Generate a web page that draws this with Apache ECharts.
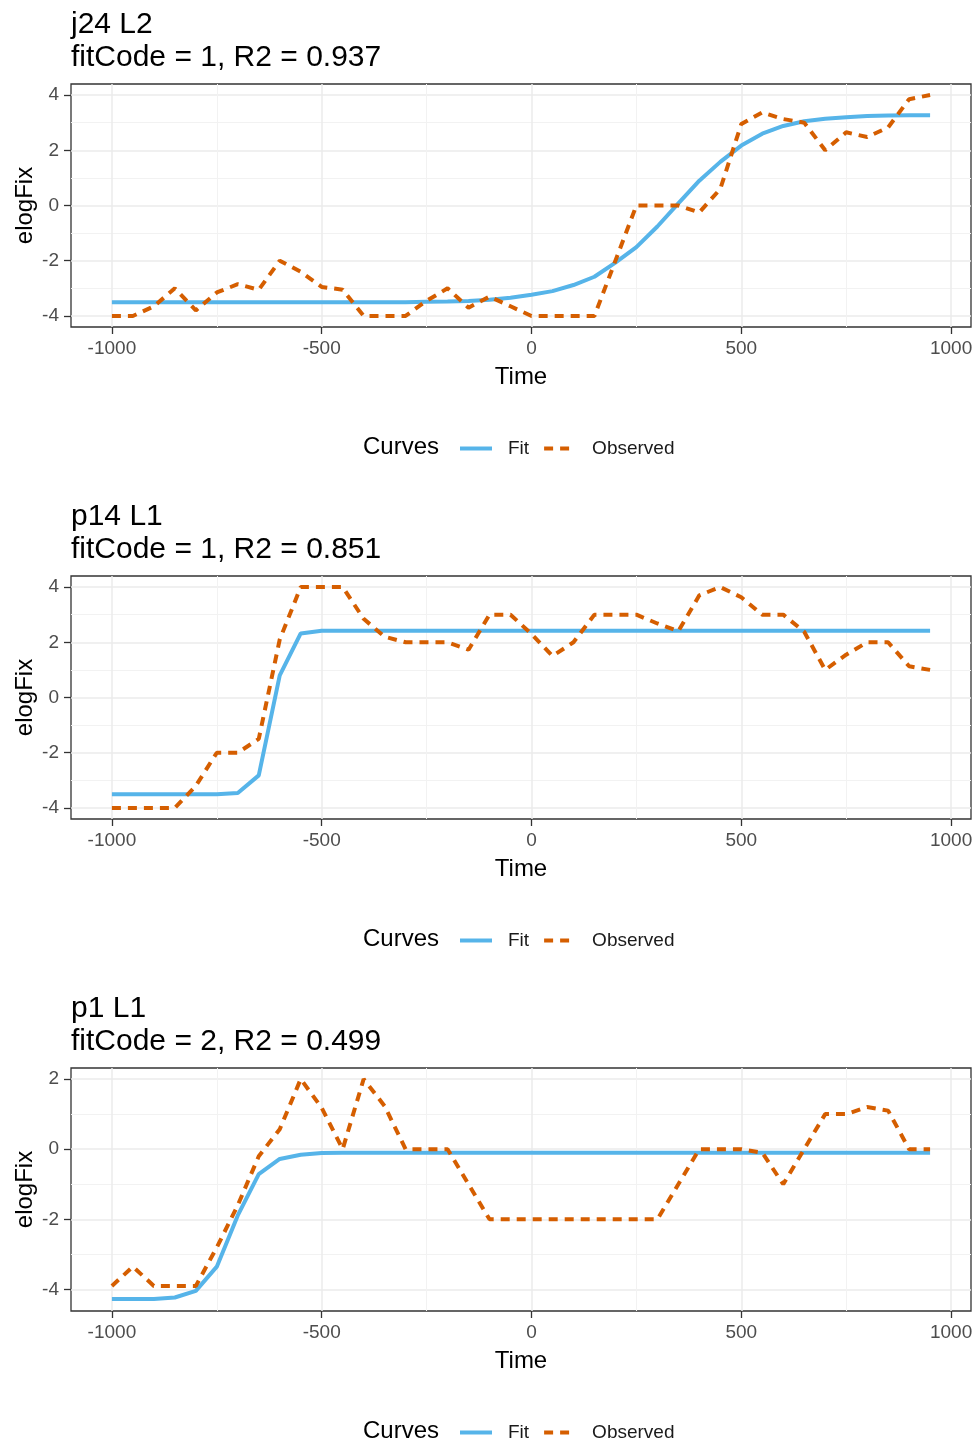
<!DOCTYPE html>
<html>
<head>
<meta charset="utf-8">
<title>elogFix curves</title>
<script src="https://cdn.jsdelivr.net/npm/echarts@6/dist/echarts.min.js"></script>
<style>
  body { margin: 0; background: #fff; }
  #main { width: 976px; height: 1442px; }
</style>
</head>
<body>
<div id="main"></div>
<script>
// time points, shared by all three panels
var times = [-1000, -950, -900, -850, -800, -750, -700, -650, -600, -550,
             -500, -450, -400, -350, -300, -250, -200, -150, -100, -50,
             0, 50, 100, 150, 200, 250, 300, 350, 400, 450,
             500, 550, 600, 650, 700, 750, 800, 850, 900, 950];

var panelNames = ['j24 L2', 'p14 L1', 'p1 L1'];
var panelStats = ['fitCode = 1, R2 = 0.937', 'fitCode = 1, R2 = 0.851', 'fitCode = 2, R2 = 0.499'];

// j24 L2
var fitJ24 = [-3.5, -3.5, -3.5, -3.5, -3.5, -3.5, -3.5, -3.5, -3.5, -3.5,
              -3.5, -3.5, -3.5, -3.5, -3.5, -3.49, -3.48, -3.46, -3.41, -3.34,
              -3.23, -3.1, -2.88, -2.58, -2.07, -1.51, -0.76, 0.08, 0.9, 1.58,
              2.17, 2.6, 2.88, 3.05, 3.14, 3.2, 3.24, 3.26, 3.27, 3.27];
var obsJ24 = [-4, -4, -3.65, -3, -3.8, -3.15, -2.85, -3.05, -2, -2.4,
              -2.95, -3.05, -4, -4, -4, -3.45, -3, -3.7, -3.3, -3.65,
              -4, -4, -4, -4, -2, 0, 0, 0, -0.25, 0.6,
              2.95, 3.37, 3.13, 3, 2, 2.65, 2.48, 2.83, 3.85, 4];

// p14 L1
var fitP14 = [-3.5, -3.5, -3.5, -3.5, -3.5, -3.5, -3.46, -2.82, 0.8, 2.32,
              2.42, 2.42, 2.42, 2.42, 2.42, 2.42, 2.42, 2.42, 2.42, 2.42,
              2.42, 2.42, 2.42, 2.42, 2.42, 2.42, 2.42, 2.42, 2.42, 2.42,
              2.42, 2.42, 2.42, 2.42, 2.42, 2.42, 2.42, 2.42, 2.42, 2.42];
var obsP14 = [-4, -4, -4, -4, -3.2, -2, -2, -1.5, 2.1, 4,
              4, 4, 2.85, 2.2, 2, 2, 2, 1.73, 3, 3,
              2.3, 1.5, 2, 3, 3, 3, 2.68, 2.4, 3.7, 4,
              3.63, 3, 3, 2.38, 1, 1.55, 2, 2, 1.13, 1];

// p1 L1
var fitP1 = [-4.27, -4.27, -4.27, -4.23, -4.04, -3.35, -1.89, -0.71, -0.28, -0.16,
             -0.11, -0.1, -0.1, -0.1, -0.1, -0.1, -0.1, -0.1, -0.1, -0.1,
             -0.1, -0.1, -0.1, -0.1, -0.1, -0.1, -0.1, -0.1, -0.1, -0.1,
             -0.1, -0.1, -0.1, -0.1, -0.1, -0.1, -0.1, -0.1, -0.1, -0.1];
var obsP1 = [-3.9, -3.35, -3.9, -3.9, -3.9, -2.8, -1.6, -0.2, 0.57, 2,
             1.18, 0, 2, 1.23, 0, 0, 0, -1, -2, -2,
             -2, -2, -2, -2, -2, -2, -2, -1, 0, 0,
             0, -0.1, -1, 0, 1, 1, 1.2, 1.1, 0, 0];

var fits = [fitJ24, fitP14, fitP1];
var observed = [obsJ24, obsP14, obsP1];

// axis breaks
var xMajor = [-1000, -500, 0, 500, 1000];
var xMinor = [-750, -250, 250, 750];
var yMajor = [[-4, -2, 0, 2, 4], [-4, -2, 0, 2, 4], [-4, -2, 0, 2]];
var yMinor = [[-3, -1, 1, 3], [-3, -1, 1, 3], [-3, -1, 1]];
var yLimits = [[-4.4, 4.4], [-4.4, 4.4], [-4.615, 2.315]];
var xLimits = [-1097.5, 1047.5];

var FONT = "'Liberation Sans', Arial, sans-serif";
var FIT_COLOR = '#56B4E9';
var OBS_COLOR = '#D55E00';

function pairs(xs, ys) {
    return xs.map(function (x, i) { return [x, ys[i]]; });
}

var myChart = echarts.init(document.getElementById('main'));

var grids = [], xAxes = [], yAxes = [], series = [], titles = [], legends = [];

for (var i = 0; i < 3; i++) {
    var off = i * 492;

    grids.push({
        left: 71, top: 84 + off, width: 900, height: 243,
        show: true, borderColor: '#333', borderWidth: 1.3,
        outerBoundsMode: 'none'
    });

    // main x axis (labels, ticks, major grid)
    xAxes.push({
        type: 'value', gridIndex: i, min: xLimits[0], max: xLimits[1], position: 'bottom',
        axisLine: {show: false, onZero: false},
        axisTick: {show: true, length: 7, customValues: xMajor, lineStyle: {color: '#333', width: 1.3}},
        axisLabel: {customValues: xMajor, color: '#4d4d4d', fontSize: 19, fontFamily: FONT, margin: 12,
            formatter: function (v) { return String(v); }},
        splitLine: {show: true, lineStyle: {color: '#ebebeb', width: 1.5}},
        name: 'Time', nameLocation: 'middle', nameGap: 38, nameMoveOverlap: false,
        nameTextStyle: {fontSize: 24, color: '#000', fontFamily: FONT}
    });
    // minor x grid
    xAxes.push({
        type: 'value', gridIndex: i, min: xLimits[0], max: xLimits[1], position: 'bottom',
        axisLine: {show: false, onZero: false},
        axisTick: {show: false, customValues: xMinor},
        axisLabel: {show: false, customValues: xMinor},
        splitLine: {show: true, lineStyle: {color: '#f2f2f2', width: 1}}
    });

    yAxes.push({
        type: 'value', gridIndex: i, min: yLimits[i][0], max: yLimits[i][1], position: 'left',
        axisLine: {show: false, onZero: false},
        axisTick: {show: true, length: 7, customValues: yMajor[i], lineStyle: {color: '#333', width: 1.3}},
        axisLabel: {customValues: yMajor[i], color: '#4d4d4d', fontSize: 19, fontFamily: FONT, margin: 12,
            formatter: function (v) { return String(v); }},
        splitLine: {show: true, lineStyle: {color: '#ebebeb', width: 1.5}},
        name: 'elogFix', nameLocation: 'middle', nameRotate: 90, nameGap: 34, nameMoveOverlap: false,
        nameTextStyle: {fontSize: 24, color: '#000', fontFamily: FONT}
    });
    yAxes.push({
        type: 'value', gridIndex: i, min: yLimits[i][0], max: yLimits[i][1], position: 'left',
        axisLine: {show: false, onZero: false},
        axisTick: {show: false, customValues: yMinor[i]},
        axisLabel: {show: false, customValues: yMinor[i]},
        splitLine: {show: true, lineStyle: {color: '#f2f2f2', width: 1}}
    });

    series.push({
        name: 'Fit', type: 'line', xAxisIndex: 2 * i, yAxisIndex: 2 * i,
        data: pairs(times, fits[i]), symbol: 'none', z: 2,
        lineStyle: {color: FIT_COLOR, width: 4},
        itemStyle: {color: FIT_COLOR}
    });
    series.push({
        name: 'Observed', type: 'line', xAxisIndex: 2 * i, yAxisIndex: 2 * i,
        data: pairs(times, observed[i]), symbol: 'none', z: 3,
        lineStyle: {color: OBS_COLOR, width: 4, type: [9, 7]},
        itemStyle: {color: OBS_COLOR}
    });

    titles.push({
        text: panelNames[i] + '\n' + panelStats[i],
        left: 71, top: 8.5 + off, padding: 0,
        textStyle: {fontSize: 30, fontWeight: 'normal', color: '#000', lineHeight: 33, fontFamily: FONT}
    });
    titles.push({
        text: 'Curves', left: 363, top: 433 + off, padding: 0,
        textStyle: {fontSize: 24, fontWeight: 'normal', color: '#000', lineHeight: 28, fontFamily: FONT}
    });

    legends.push({
        data: ['Fit', 'Observed'], left: 458, top: 439 + off, padding: 0,
        itemWidth: 32, itemHeight: 14, itemGap: 13, selectedMode: false,
        itemStyle: {opacity: 0},
        lineStyle: {width: 4},
        textStyle: {fontSize: 19, color: '#1a1a1a', fontFamily: FONT, padding: [0, 0, 0, 11]}
    });
}

myChart.setOption({
    backgroundColor: '#fff',
    animation: false,
    title: titles,
    legend: legends,
    grid: grids,
    xAxis: xAxes,
    yAxis: yAxes,
    series: series
});
</script>
</body>
</html>
